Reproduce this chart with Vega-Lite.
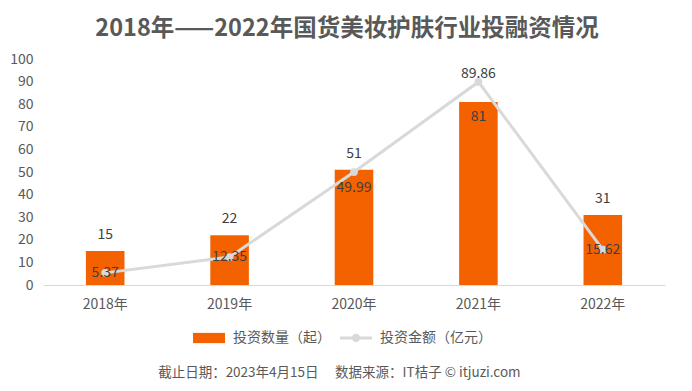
{
  "$schema": "https://vega.github.io/schema/vega-lite/v6.json",
  "background": "white",
  "padding": {"left": 9, "top": 16, "right": 20, "bottom": 6},
  "config": {"font": "Noto Sans CJK SC", "view": {"stroke": null}},
  "title": {"text": "截止日期：2023年4月15日\u3000\u00a0数据来源：IT桔子 © itjuzi.com", "orient": "bottom", "anchor": "middle", "fontSize": 13.5, "fontWeight": "normal", "color": "#595959", "offset": 21, "dx": 2},
  "vconcat": [
    {
      "title": {"text": "2018年——2022年国货美妆护肤行业投融资情况", "fontSize": 23.5, "fontWeight": "bold", "color": "#595959", "anchor": "middle", "offset": 12, "dx": -7},
      "width": 622,
      "height": 226,
      "data": {"values": [
        {"year": "2018年", "series": "投资数量（起）", "value": 15},
        {"year": "2019年", "series": "投资数量（起）", "value": 22},
        {"year": "2020年", "series": "投资数量（起）", "value": 51},
        {"year": "2021年", "series": "投资数量（起）", "value": 81},
        {"year": "2022年", "series": "投资数量（起）", "value": 31},
        {"year": "2018年", "series": "投资金额（亿元）", "value": 5.37},
        {"year": "2019年", "series": "投资金额（亿元）", "value": 12.35},
        {"year": "2020年", "series": "投资金额（亿元）", "value": 49.99},
        {"year": "2021年", "series": "投资金额（亿元）", "value": 89.86},
        {"year": "2022年", "series": "投资金额（亿元）", "value": 15.62}
      ]},
      "encoding": {
        "x": {"field": "year", "type": "nominal", "sort": null,
          "scale": {"paddingInner": 0.69, "paddingOuter": 0.345},
          "axis": {"title": null, "labelAngle": 0, "ticks": false, "domainColor": "#D9D9D9", "domainWidth": 1, "labelPadding": 12, "labelFontSize": 14, "labelColor": "#595959", "grid": false}},
        "y": {"field": "value", "type": "quantitative", "scale": {"domain": [0, 100], "nice": false},
          "axis": {"title": null, "grid": false, "domain": false, "ticks": false, "labelOverlap": false, "labelFlush": false, "values": [0,10,20,30,40,50,60,70,80,90,100], "labelPadding": 10, "labelFontSize": 14, "labelColor": "#595959"}}
      },
      "layer": [
        {
          "transform": [{"filter": "datum.series === '投资数量（起）'"}],
          "mark": {"type": "bar", "color": "#F46200"},
          "encoding": {
            "color": {"field": "series", "type": "nominal",
              "scale": {"domain": ["投资数量（起）", "投资金额（亿元）"], "range": ["#F46200", "#D9D9D9"]},
              "legend": {"orient": "none", "legendX": 150, "legendY": 263, "direction": "horizontal", "title": null,
                "labelFontSize": 14, "labelColor": "#595959", "symbolSize": 1024, "labelOffset": 8, "columnPadding": 9,
                "encode": {"symbols": {"update": {
                  "shape": {"signal": "datum.value === '投资数量（起）' ? 'M-1,-0.32H1V0.32H-1Z' : 'M-1,-0.1H1V0.1H-1Z M0.26,0 A0.26,0.26 0 1,1 -0.26,0 A0.26,0.26 0 1,1 0.26,0 Z'"},
                  "size": {"value": 1024},
                  "fill": {"signal": "datum.value === '投资数量（起）' ? '#F46200' : '#D9D9D9'"},
                  "stroke": {"value": "transparent"},
                  "strokeWidth": {"value": 0},
                  "opacity": {"value": 1}
                }}}}}
          }
        },
        {
          "transform": [{"filter": "datum.series === '投资金额（亿元）'"}],
          "mark": {"type": "line", "strokeWidth": 3, "color": "#D9D9D9", "point": {"filled": true, "size": 60, "color": "#D9D9D9"}}
        },
        {
          "transform": [{"filter": "datum.series === '投资数量（起）' && datum.year !== '2021年'"}],
          "mark": {"type": "text", "dy": -16, "fontSize": 14, "color": "#404040", "baseline": "middle"},
          "encoding": {"text": {"field": "value"}}
        },
        {
          "transform": [{"filter": "datum.series === '投资数量（起）' && datum.year === '2021年'"}],
          "mark": {"type": "text", "dy": 15, "fontSize": 14, "color": "#404040", "baseline": "middle"},
          "encoding": {"text": {"field": "value"}}
        },
        {
          "transform": [{"filter": "datum.series === '投资金额（亿元）' && datum.year !== '2020年' && datum.year !== '2021年'"}],
          "mark": {"type": "text", "dy": 0, "fontSize": 14, "color": "#404040", "baseline": "middle"},
          "encoding": {"text": {"field": "value"}}
        },
        {
          "transform": [{"filter": "datum.series === '投资金额（亿元）' && datum.year === '2020年'"}],
          "mark": {"type": "text", "dy": 16, "fontSize": 14, "color": "#404040", "baseline": "middle"},
          "encoding": {"text": {"field": "value"}}
        },
        {
          "transform": [{"filter": "datum.series === '投资金额（亿元）' && datum.year === '2021年'"}],
          "mark": {"type": "text", "dy": -8, "fontSize": 14, "color": "#404040", "baseline": "middle"},
          "encoding": {"text": {"field": "value"}}
        }
      ]
    }
  ]
}
